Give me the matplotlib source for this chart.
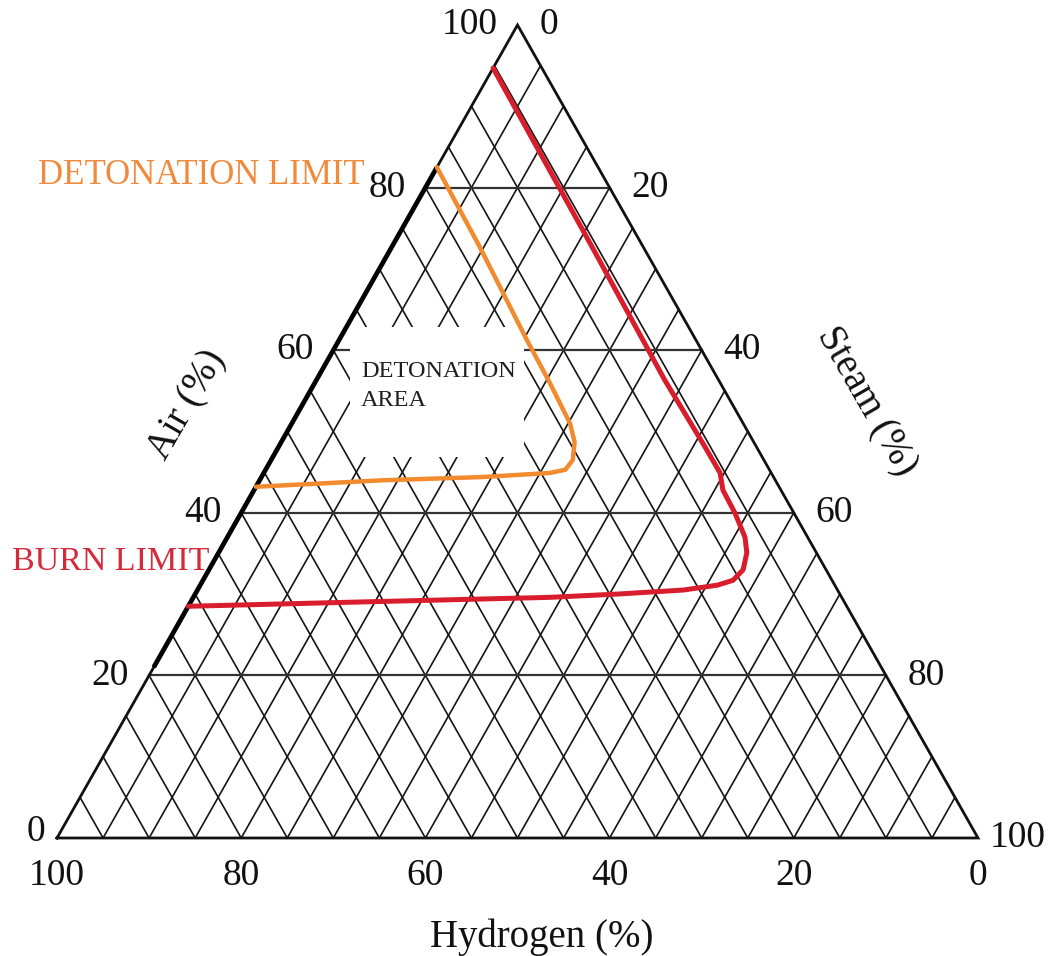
import matplotlib
matplotlib.use("Agg")
import matplotlib.pyplot as plt
from matplotlib.patches import Rectangle
import numpy as np

plt.rcParams['font.family'] = ['Liberation Serif', 'DejaVu Serif']

# ---------------- data (percent) ----------------
tick_values = [0, 20, 40, 60, 80, 100]
grid_minor = list(range(5, 100, 5))
grid_major = [20, 40, 60, 80]

# Burn limit (Hydrogen %, Air %), steam = 100 - H - Air
burn_h   = [5.3, 5.55, 5.85, 5.6, 5.55, 6.3, 6.4, 6.8, 7.55, 9.0, 10.75, 12.75, 16.75, 24.2, 31.7, 53.7, 71.5]
burn_air = [94.7, 72.7, 56.3, 48.6, 44.9, 42.8, 40.0, 37.0, 35.1, 33.0, 31.7, 31.1, 30.5, 30.0, 29.6, 29.0, 28.5]

# Detonation limit (Hydrogen %, Air %)
det_h   = [17.5, 17.75, 18.35, 18.5, 18.8, 19.45, 20.75, 22.15, 24.05, 31.55, 42.6, 56.8]
det_air = [82.5, 72.7, 61.3, 56.0, 51.0, 48.7, 46.5, 45.3, 44.9, 44.4, 44.0, 43.2]

# Highlighted segment of the left edge (Air %, steam = 0)
edge_air = [21.0, 82.5]

W, H = 1062, 956
fig = plt.figure(figsize=(W / 100, H / 100), dpi=100)
ax = fig.add_axes([57 / W, (H - 838) / H, 921 / W, 813 / H])
ax.set_xlim(0, 100)
ax.set_ylim(0, 100)
ax.axis('off')


def xy(h, a):
    h = np.asarray(h, float)
    a = np.asarray(a, float)
    s = 100 - h - a
    return s + a / 2.0, a


# minor diagonal grid
for v in grid_minor:
    x, y = xy([v, v], [0, 100 - v])          # constant hydrogen
    ax.plot(x, y, color='#141414', lw=1.2, zorder=1, clip_on=False)
    x, y = xy([100 - v, 0], [0, 100 - v])    # constant steam
    ax.plot(x, y, color='#141414', lw=1.2, zorder=1, clip_on=False)

# horizontal (air) lines
for v in grid_major:
    x, y = xy([100 - v, 0], [v, v])
    ax.plot(x, y, color='#333333', lw=1.6, zorder=1, clip_on=False)

# white box behind label
ax.add_patch(Rectangle((31.8, 46.9), 18.9, 16.0, facecolor='white',
                       edgecolor='none', zorder=2))

# outline
ox, oy = xy([100, 0, 0, 100], [0, 0, 100, 0])
ax.plot(ox, oy, color='#111111', lw=2.0, zorder=3, clip_on=False,
        solid_joinstyle='miter')

# thick left edge segment
ex, ey = xy([100 - edge_air[0], 100 - edge_air[1]], edge_air)
ax.plot(ex, ey, color='black', lw=3.4, zorder=4, clip_on=False,
        solid_capstyle='butt')

# curves
bx, by = xy(burn_h, burn_air)
ax.plot(bx, by, color='#d81e2c', lw=3.6, zorder=5, clip_on=False,
        solid_joinstyle='round', solid_capstyle='round')
dx, dy = xy(det_h, det_air)
ax.plot(dx, dy, color='#f28a2e', lw=3.2, zorder=5, clip_on=False,
        solid_joinstyle='round', solid_capstyle='round')

fs_tick = 27
# Air ticks (left edge)
for v in tick_values:
    x, y = xy(100 - v, v)
    off = (-20, 0) if v != 0 else (-12, 6)
    ax.annotate(str(v), (x, y), xytext=off, textcoords='offset pixels',
                ha='right', va='center', fontsize=fs_tick, color='#111111',
                annotation_clip=False)
# Steam ticks (right edge)
for v in tick_values:
    x, y = xy(0, 100 - v)
    off = (22, 0) if v != 100 else (12, 0)
    ax.annotate(str(v), (x, y), xytext=off, textcoords='offset pixels',
                ha='left', va='center', fontsize=fs_tick, color='#111111',
                annotation_clip=False)
# Hydrogen ticks (bottom)
for v in tick_values:
    x, y = xy(v, 0)
    ax.annotate(str(v), (x, y), xytext=(0, -38), textcoords='offset pixels',
                ha='center', va='center', fontsize=fs_tick, color='#111111',
                annotation_clip=False)

# axis titles
fig.text(187 / W, 1 - 405 / H, 'Air (%)', rotation=60, ha='center', va='center',
         fontsize=28, color='#111111')
fig.text(866 / W, 1 - 402 / H, 'Steam (%)', rotation=-60, ha='center', va='center',
         fontsize=28, color='#111111')
fig.text(542 / W, 1 - 937 / H, 'Hydrogen (%)', ha='center', va='center',
         fontsize=28, color='#111111')

# annotations
fig.text(365 / W, 1 - 175 / H, 'DETONATION LIMIT', ha='right', va='center',
         fontsize=25, color='#f08a3c')
fig.text(12 / W, 1 - 562 / H, 'BURN LIMIT', ha='left', va='center',
         fontsize=24.5, color='#d42a3a')
fig.text(361 / W, 1 - 386 / H, 'DETONATION\nAREA', ha='left', va='center',
         fontsize=17.5, color='#1e1e1e', linespacing=1.45)

fig.savefig('out.png', dpi=100, facecolor='white')
